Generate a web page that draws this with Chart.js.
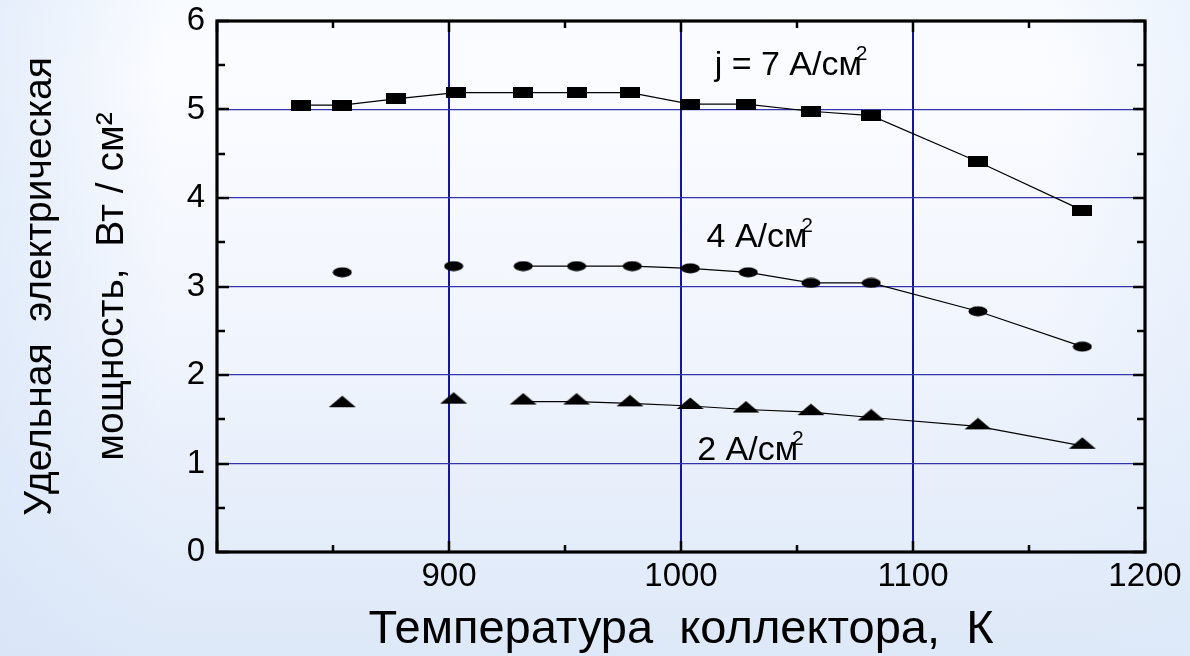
<!DOCTYPE html>
<html>
<head>
<meta charset="utf-8">
<script src="https://cdn.jsdelivr.net/npm/chart.js@4.4.1/dist/chart.umd.min.js"></script>
<style>
  html, body { margin: 0; padding: 0; width: 1190px; height: 656px; overflow: hidden; }
  body {
    background:
      linear-gradient(90deg, rgba(214,228,248,0.55) 0%, rgba(255,255,255,0) 14%, rgba(255,255,255,0) 88%, rgba(222,234,250,0.45) 100%),
      linear-gradient(180deg, #f8fbff 0%, #fbfcff 12%, #f1f5fd 50%, #dde8f8 100%);
  }
  #wrap { position: relative; width: 1190px; height: 656px; }
</style>
</head>
<body>
<div id="wrap"><canvas id="chart" width="1190" height="656"></canvas></div>
<script>
// Collector temperature, K, and specific electric power, W/cm^2, per current density
const temps7 = [836, 854, 877, 903, 932, 955, 978, 1004, 1028, 1056, 1082, 1128, 1173];
const power7 = [5.05, 5.05, 5.12, 5.19, 5.19, 5.19, 5.19, 5.06, 5.06, 4.98, 4.93, 4.41, 3.86];

const temps4 = [854, 902, 932, 955, 979, 1004, 1029, 1056, 1082, 1128, 1173];
const power4 = [3.16, 3.23, 3.23, 3.23, 3.23, 3.205, 3.16, 3.04, 3.04, 2.72, 2.32];

const temps2 = [854, 902, 932, 955, 978, 1004, 1028, 1056, 1082, 1128, 1173];
const power2 = [1.67, 1.71, 1.70, 1.70, 1.68, 1.65, 1.61, 1.58, 1.52, 1.42, 1.20];

const seriesNames = ['j = 7 А/см', '4 А/см', '2 А/см'];
const xTickLabels = ['900', '1000', '1100', '1200'];
const yTickLabels = ['0', '1', '2', '3', '4', '5', '6'];
const xTitle = 'Температура  коллектора,  К';
const yTitle = ['Удельная  электрическая', 'мощность,  Вт / см²'];

const FONT = '"Liberation Sans", Arial, Helvetica, sans-serif';

// Flattened marker glyphs (filled black)
function marker(kind) {
  const c = document.createElement('canvas');
  const g = c.getContext('2d');
  if (kind === 'square') {
    c.width = 20; c.height = 11;
    g.fillStyle = '#000';
    g.fillRect(0, 0, 20, 11);
  } else if (kind === 'ellipse') {
    c.width = 20; c.height = 11;
    g.fillStyle = '#000';
    g.beginPath();
    g.ellipse(10, 5.5, 9.5, 5, 0, 0, Math.PI * 2);
    g.fill();
  } else {
    // canvas is taller than the triangle so the data point sits just above its base
    c.width = 28; c.height = 18;
    g.fillStyle = '#000';
    g.beginPath();
    g.moveTo(0.5, 12);
    g.lineTo(27.5, 12);
    g.lineTo(14, 0.5);
    g.closePath();
    g.fill();
  }
  return c;
}

function toPoints(xs, ys) { return xs.map((x, i) => ({ x: x, y: ys[i] })); }

function series(label, xs, ys, glyph, linkFrom) {
  return {
    label: label,
    data: toPoints(xs, ys),
    showLine: true,
    borderColor: '#000',
    borderWidth: 1.2,
    pointStyle: marker(glyph),
    pointRadius: 8,
    pointHoverRadius: 8,
    tension: 0,
    clip: false,
    segment: {
      borderColor: ctx => (ctx.p0DataIndex < linkFrom ? 'rgba(0,0,0,0)' : '#000')
    }
  };
}

// Frame with inward tick marks on all four sides
const framePlugin = {
  id: 'frame',
  afterDatasetsDraw(chart) {
    const { ctx, chartArea: { left, right, top, bottom }, scales: { x, y } } = chart;
    ctx.save();
    ctx.strokeStyle = '#000';
    ctx.lineCap = 'butt';
    ctx.lineWidth = 2.5;
    x.ticks.forEach(t => {
      const px = Math.round(x.getPixelForValue(t.value));
      const len = t.value % 100 === 0 ? 11 : 7;
      ctx.beginPath();
      ctx.moveTo(px, bottom); ctx.lineTo(px, bottom - len);
      ctx.moveTo(px, top); ctx.lineTo(px, top + len);
      ctx.stroke();
    });
    y.ticks.forEach(t => {
      const py = Math.round(y.getPixelForValue(t.value));
      const len = Number.isInteger(t.value) ? 12 : 8;
      ctx.beginPath();
      ctx.moveTo(left, py); ctx.lineTo(left + len, py);
      ctx.moveTo(right, py); ctx.lineTo(right - len, py);
      ctx.stroke();
    });
    ctx.lineWidth = 3.2;
    ctx.strokeRect(left, top, right - left, bottom - top);
    ctx.restore();
  }
};

// Current-density captions next to each curve
const captionPlugin = {
  id: 'captions',
  afterDatasetsDraw(chart, args, opts) {
    const { ctx, scales: { x, y } } = chart;
    ctx.save();
    ctx.fillStyle = '#000';
    ctx.textBaseline = 'alphabetic';
    ctx.textAlign = 'left';
    opts.items.forEach(item => {
      const px = x.getPixelForValue(item.at[0]);
      const py = y.getPixelForValue(item.at[1]);
      ctx.font = '34px ' + FONT;
      ctx.fillText(item.text, px, py);
      const w = ctx.measureText(item.text).width;
      ctx.font = '21px ' + FONT;
      ctx.fillText('2', px + w - 6, py - 15);
    });
    ctx.restore();
  }
};

new Chart(document.getElementById('chart'), {
  type: 'scatter',
  data: {
    datasets: [
      series(seriesNames[0], temps7, power7, 'square', 0),
      series(seriesNames[1], temps4, power4, 'ellipse', 2),
      series(seriesNames[2], temps2, power2, 'triangle', 2)
    ]
  },
  options: {
    responsive: false,
    animation: false,
    events: [],
    layout: { padding: { top: 21, right: 45, bottom: 0, left: 0 } },
    plugins: {
      legend: { display: false },
      tooltip: { enabled: false },
      captions: {
        items: [
          { text: seriesNames[0], at: [1014.5, 5.39] },
          { text: seriesNames[1], at: [1011, 3.45] },
          { text: seriesNames[2], at: [1007, 1.04] }
        ]
      }
    },
    scales: {
      x: {
        type: 'linear',
        min: 800,
        max: 1200,
        afterFit: s => { s.height = 104; },
        border: { display: false },
        grid: {
          drawTicks: false,
          lineWidth: 2,
          color: c => (c.tick && [900, 1000, 1100].includes(c.tick.value) ? '#14149c' : 'rgba(0,0,0,0)')
        },
        ticks: {
          stepSize: 50,
          autoSkip: false,
          maxRotation: 0,
          padding: 5,
          color: '#000',
          font: { family: FONT, size: 33 },
          callback: v => (xTickLabels.includes(String(v)) ? String(v) : '')
        },
        title: {
          display: true,
          text: xTitle,
          color: '#000',
          padding: 0,
          font: { family: FONT, size: 47, lineHeight: 1.1 }
        }
      },
      y: {
        type: 'linear',
        min: 0,
        max: 6,
        afterFit: s => { s.width = 217; s.paddingTop = 0; s.paddingBottom = 0; },
        border: { display: false },
        grid: {
          drawTicks: false,
          lineWidth: 1.3,
          color: c => (c.tick && Number.isInteger(c.tick.value) && c.tick.value > 0 && c.tick.value < 6 ? '#3434aa' : 'rgba(0,0,0,0)')
        },
        ticks: {
          stepSize: 0.5,
          autoSkip: false,
          padding: 12,
          color: '#000',
          font: { family: FONT, size: 33 },
          callback: v => (Number.isInteger(v) ? yTickLabels[v] : '')
        },
        title: {
          display: true,
          text: yTitle,
          color: '#000',
          padding: { top: 4, bottom: 0 },
          font: { family: FONT, size: 39, lineHeight: 1.85 }
        }
      }
    }
  },
  plugins: [framePlugin, captionPlugin]
});
</script>
</body>
</html>
